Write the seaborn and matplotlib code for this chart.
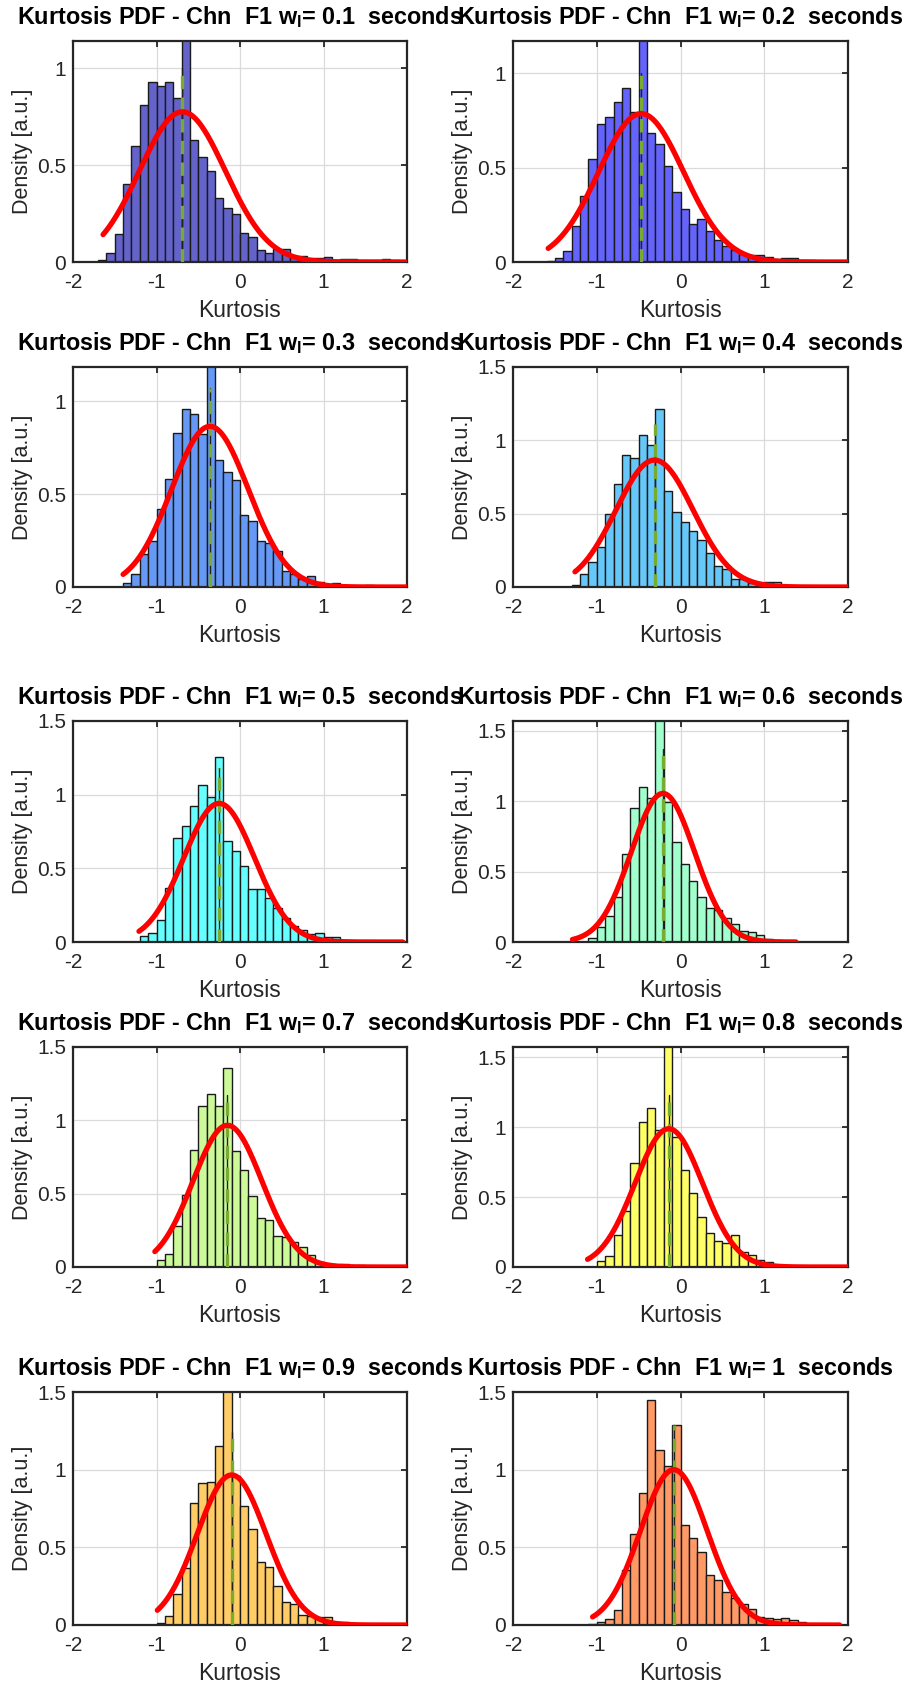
import numpy as np
import pandas as pd
import matplotlib
matplotlib.use("Agg")
import matplotlib.pyplot as plt
import seaborn as sns

sns.set_style("white")
plt.rcParams['font.family'] = ['Liberation Sans', 'DejaVu Sans']
plt.rcParams['mathtext.fontset'] = 'custom'
plt.rcParams['mathtext.rm'] = 'Liberation Sans'
plt.rcParams['mathtext.bf'] = 'Liberation Sans:bold'

# ---------------- data ----------------
window_labels = ['0.1', '0.2', '0.3', '0.4', '0.5', '0.6', '0.7', '0.8', '0.9', '1']
bin_width = 0.1
bin_starts = [-1.7, -1.6, -1.4, -1.3, -1.2, -1.1, -1.1, -1.0, -1.0, -1.1]

h01 = [0.01, 0.046, 0.146, 0.40, 0.60, 0.81, 0.93, 0.907, 0.93, 0.847, 1.25, 0.63, 0.54, 0.47,
       0.33, 0.28, 0.25, 0.15, 0.13, 0.064, 0.048, 0.069, 0.069, 0.033, 0.03, 0.02, 0.02, 0.024,
       0.012, 0.015, 0.018, 0.01, 0.008, 0.008, 0.015, 0.008, 0.006]
h02 = [0.005, 0.02, 0.056, 0.19, 0.35, 0.547, 0.728, 0.769, 0.848, 0.922, 0.794, 1.25, 0.683,
       0.623, 0.506, 0.372, 0.282, 0.20, 0.226, 0.162, 0.118, 0.083, 0.065, 0.044, 0.035, 0.035,
       0.025, 0.016, 0.021, 0.019, 0.012, 0.012, 0.005, 0.005, 0.004, 0.004]
h03 = [0.02, 0.072, 0.18, 0.246, 0.42, 0.58, 0.83, 0.959, 0.934, 0.824, 1.25, 0.682, 0.619,
       0.578, 0.388, 0.357, 0.248, 0.235, 0.192, 0.084, 0.068, 0.043, 0.059, 0.027, 0.014, 0.02,
       0.013, 0.005, 0.005, 0.009, 0.004, 0.003, 0.002, 0.002]
h04 = [0.014, 0.09, 0.17, 0.274, 0.50, 0.704, 0.90, 0.88, 1.036, 0.968, 1.213, 0.654, 0.514,
       0.441, 0.385, 0.321, 0.235, 0.14, 0.124, 0.054, 0.054, 0.027, 0.018, 0.036, 0.036]
h05 = [0.043, 0.061, 0.148, 0.364, 0.709, 0.79, 0.925, 1.064, 0.986, 1.255, 0.684, 0.618, 0.516,
       0.359, 0.361, 0.30, 0.234, 0.164, 0.107, 0.08, 0.055, 0.061, 0.034, 0.032, 0.016, 0.009,
       0.007, 0.004]
h06 = [0.031, 0.107, 0.185, 0.32, 0.626, 0.955, 1.10, 1.026, 1.65, 0.995, 0.711, 0.557, 0.434,
       0.32, 0.244, 0.225, 0.171, 0.126, 0.076, 0.071, 0.047, 0.024, 0.012]
h07 = [0.003, 0.05, 0.09, 0.28, 0.489, 0.80, 1.10, 1.18, 1.095, 1.36, 0.789, 0.664, 0.482, 0.336,
       0.32, 0.211, 0.207, 0.168, 0.136, 0.08, 0.036, 0.009, 0.009, 0.02, 0.007, 0.014, 0.005]
h08 = [0.043, 0.079, 0.23, 0.40, 0.742, 1.04, 1.138, 0.983, 1.65, 0.93, 0.697, 0.532, 0.358,
       0.246, 0.184, 0.174, 0.23, 0.11, 0.086, 0.05, 0.033, 0.012]
h09 = [0.01, 0.056, 0.199, 0.37, 0.784, 0.914, 0.918, 1.151, 1.6, 0.959, 0.767, 0.616, 0.404,
       0.374, 0.253, 0.151, 0.138, 0.067, 0.056, 0.05, 0.05, 0.019, 0.019, 0.006, 0.003, 0.003,
       0.002, 0.002, 0.002, 0.003]
h10 = [0.004, 0.02, 0.037, 0.095, 0.356, 0.587, 0.853, 1.447, 1.127, 1.026, 1.29, 0.641, 0.562,
       0.471, 0.324, 0.287, 0.212, 0.171, 0.134, 0.10, 0.05, 0.043, 0.037, 0.043, 0.032, 0.017,
       0.009, 0.004]
heights = [h01, h02, h03, h04, h05, h06, h07, h08, h09, h10]

# fitted normal parameters (mean, sigma) and extent of the fitted curve
fit_mean = [-0.69, -0.47, -0.36, -0.31, -0.25, -0.21, -0.15, -0.14, -0.10, -0.08]
fit_sigma = [0.515, 0.508, 0.461, 0.461, 0.424, 0.378, 0.413, 0.403, 0.413, 0.399]
curve_start = [-1.64, -1.58, -1.40, -1.26, -1.21, -1.29, -1.02, -1.11, -0.99, -1.05]
curve_end = [2.0, 2.0, 2.0, 2.0, 1.95, 1.38, 2.0, 2.0, 2.0, 1.90]
mean_line_top = [1.0, 1.0, 1.07, 1.11, 1.18, 1.37, 1.17, 1.23, 1.24, 1.29]
y_top = [1.14, 1.17, 1.185, 1.5, 1.5, 1.57, 1.5, 1.575, 1.5, 1.5]

bar_colors = ['#6363CA', '#6464FC', '#6699F5', '#66C8F8', '#66FFFF',
              '#A0FFCC', '#CCFA99', '#FFFF66', '#FFCC66', '#FF9966']

# ---------------- layout ----------------
W, H = 909, 1686
col_x = [(73, 407), (513, 848)]
row_y = [(41, 262), (367, 587), (721, 942), (1047, 1267), (1392, 1625)]

fig = plt.figure(figsize=(W / 100, H / 100), dpi=100)

for i in range(10):
    r, c = divmod(i, 2)
    x0, x1 = col_x[c]
    y0, y1 = row_y[r]
    ax = fig.add_axes([x0 / W, 1 - y1 / H, (x1 - x0) / W, (y1 - y0) / H])

    h = np.array(heights[i], dtype=float)
    n = len(h)
    lo = bin_starts[i]
    hi = round(lo + bin_width * n, 4)
    centers = lo + bin_width * (np.arange(n) + 0.5)
    df = pd.DataFrame({'kurt': centers, 'dens': h})
    sns.histplot(data=df, x='kurt', weights='dens', binwidth=bin_width, binrange=(lo, hi),
                 stat='count', color=bar_colors[i], alpha=1.0, edgecolor='#1a1a1a',
                 linewidth=1.0, ax=ax, zorder=2)

    xs = np.linspace(curve_start[i], curve_end[i], 300)
    mu, sd = fit_mean[i], fit_sigma[i]
    pdf = np.exp(-0.5 * ((xs - mu) / sd) ** 2) / (sd * np.sqrt(2 * np.pi))
    sns.lineplot(x=xs, y=pdf, color='#FF0000', linewidth=3.8, ax=ax, zorder=4)

    ax.plot([mu, mu], [0, mean_line_top[i]], color='#222222', lw=1.0, zorder=3)
    ax.plot([mu, mu], [0, mean_line_top[i]], color='#77AC30', lw=2.4,
            linestyle=(0, (4, 2.5)), zorder=3.5)

    ax.set_xlim(-2, 2)
    ax.set_ylim(0, y_top[i])
    ax.set_xticks([-2, -1, 0, 1, 2])
    ax.set_xticklabels(['-2', '-1', '0', '1', '2'])
    yt = [0, 0.5, 1] + ([1.5] if y_top[i] >= 1.5 else [])
    ax.set_yticks(yt)
    ax.set_yticklabels(['0' if v == 0 else ('1' if v == 1 else str(v)) for v in yt])
    ax.grid(True, color='#DADADA', linewidth=0.9)
    ax.set_axisbelow(True)
    ax.tick_params(direction='in', top=True, right=True, length=4, width=1.3,
                   labelsize=15, labelcolor='#262626', color='#262626')
    ax.tick_params(axis='x', pad=8)
    ax.tick_params(axis='y', pad=5)
    for s in ax.spines.values():
        s.set_linewidth(1.6)
        s.set_color('#262626')
    ax.set_xlabel('Kurtosis', fontsize=16.5, color='#262626', labelpad=5)
    ax.set_ylabel('Density [a.u.]', fontsize=15.5, color='#262626', labelpad=3)
    ax.set_title(r'Kurtosis PDF - Chn  F1 w$_\mathbf{l}$= ' + window_labels[i] + '  seconds',
                 fontsize=16.8, fontweight='bold', pad=12, color='black')

fig.savefig('out.png', dpi=100)
